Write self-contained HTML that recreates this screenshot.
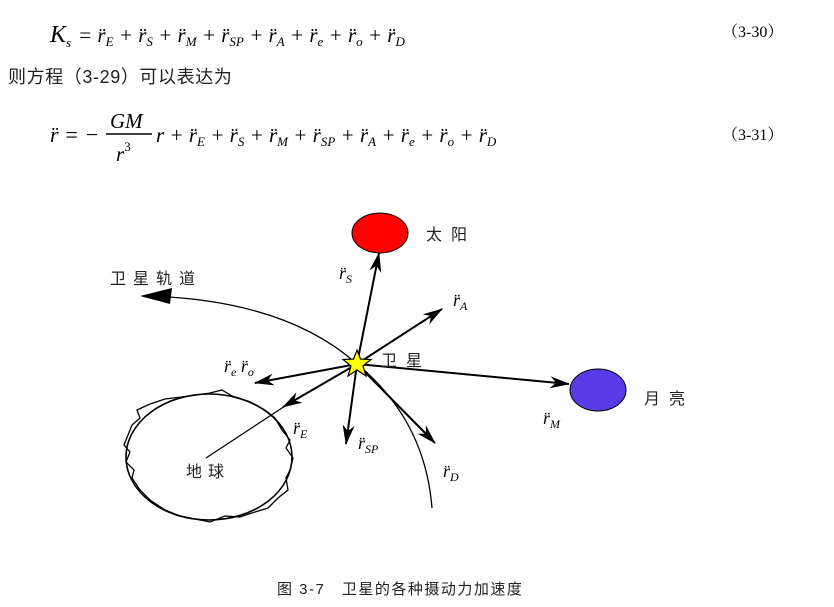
<!DOCTYPE html>
<html><head><meta charset="utf-8"><style>
html,body{margin:0;padding:0;background:#fff;width:834px;height:607px;overflow:hidden}
svg{display:block}
.m{font-family:"Liberation Serif",serif;font-style:italic}
.c{font-family:"Liberation Serif","Noto Serif CJK SC",serif}
.s{font-family:"Liberation Sans","Noto Sans CJK SC",sans-serif}
</style></head><body>
<svg width="834" height="607" viewBox="0 0 834 607" xmlns="http://www.w3.org/2000/svg">
<defs>
<marker id="ah" viewBox="0 0 20 12" refX="19" refY="6" markerWidth="20" markerHeight="12" markerUnits="userSpaceOnUse" orient="auto">
<path d="M0,0 L20,6 L0,12 L6,6 Z" fill="#000"/>
</marker>
</defs>
<text x="50" y="42" class="m" font-size="24">K<tspan font-size="13" dy="5">s</tspan></text>
<text x="78" y="42" class="m" font-size="21" word-spacing="0">= r̈<tspan font-size="13" dy="4">E</tspan><tspan dy="-4"> + r̈</tspan><tspan font-size="13" dy="4">S</tspan><tspan dy="-4"> + r̈</tspan><tspan font-size="13" dy="4">M</tspan><tspan dy="-4"> + r̈</tspan><tspan font-size="13" dy="4">SP</tspan><tspan dy="-4"> + r̈</tspan><tspan font-size="13" dy="4">A</tspan><tspan dy="-4"> + r̈</tspan><tspan font-size="13" dy="4">e</tspan><tspan dy="-4"> + r̈</tspan><tspan font-size="13" dy="4">o</tspan><tspan dy="-4"> + r̈</tspan><tspan font-size="13" dy="4">D</tspan></text>
<text x="722" y="37" class="c" font-size="16">（3-30）</text>
<text x="8" y="83" class="s" font-size="18" fill="#222" letter-spacing="0.6">则方程（3-29）可以表达为</text>
<text x="50" y="142" class="m" font-size="22">r̈ = −</text>
<text x="110" y="128" class="m" font-size="21">GM</text>
<line x1="106" y1="134" x2="152" y2="134" stroke="#000" stroke-width="1.5"/>
<text x="116" y="161" class="m" font-size="21">r<tspan font-size="13" dy="-10" font-style="normal">3</tspan></text>
<text x="156" y="142" class="m" font-size="21" word-spacing="0">r + r̈<tspan font-size="13" dy="4">E</tspan><tspan dy="-4"> + r̈</tspan><tspan font-size="13" dy="4">S</tspan><tspan dy="-4"> + r̈</tspan><tspan font-size="13" dy="4">M</tspan><tspan dy="-4"> + r̈</tspan><tspan font-size="13" dy="4">SP</tspan><tspan dy="-4"> + r̈</tspan><tspan font-size="13" dy="4">A</tspan><tspan dy="-4"> + r̈</tspan><tspan font-size="13" dy="4">e</tspan><tspan dy="-4"> + r̈</tspan><tspan font-size="13" dy="4">o</tspan><tspan dy="-4"> + r̈</tspan><tspan font-size="13" dy="4">D</tspan></text>
<text x="722" y="140" class="c" font-size="16">（3-31）</text>

<ellipse cx="380" cy="233" rx="28" ry="20" fill="#ff0000" stroke="#000" stroke-width="1"/>
<ellipse cx="598" cy="390" rx="28" ry="21" fill="#5a3be8" stroke="#000" stroke-width="1"/>
<ellipse cx="209" cy="457" rx="83" ry="63" fill="none" stroke="#000" stroke-width="1.6"/>
<path d="M126,440 L132,425 L140,418 L137,410 L150,404 L165,399 L190,396 L210,393 L222,390 L232,396 L250,402 L265,410 L275,418 L282,430 L290,440 L286,448 L293,458 L290,470 L286,478 L288,490 L278,498 L268,508 L255,512 L240,517 L225,516 L210,522 L195,519 L180,516 L165,510 L150,500 L140,490 L132,478 L134,470 L126,462 L130,452 L124,445 Z" fill="none" stroke="#000" stroke-width="1.3"/>
<line x1="285" y1="406" x2="206" y2="458" stroke="#000" stroke-width="1.2"/>

<path d="M148,296 Q285,300 357,364 Q425,420 432,508" fill="none" stroke="#000" stroke-width="1.3"/>
<path d="M140,296 L172,288 L170,304 Z" fill="#000"/>

<g stroke="#000" stroke-width="2" marker-end="url(#ah)">
<line x1="357" y1="364" x2="379" y2="253"/>
<line x1="357" y1="364" x2="442" y2="309"/>
<line x1="357" y1="364" x2="569" y2="384"/>
<line x1="357" y1="364" x2="255" y2="383"/>
<line x1="357" y1="364" x2="283" y2="407"/>
<line x1="357" y1="364" x2="346" y2="444"/>
<line x1="357" y1="364" x2="435" y2="443"/>
</g>
<polygon points="357,350 360.5,359 371,359.5 363,366 366,376 357,370 348,376 351,366 343,359.5 353.5,359" fill="#ffff00" stroke="#000" stroke-width="1.2"/>

<g class="s" font-size="16" fill="#222">
<text x="426" y="240" letter-spacing="9">太阳</text>
<text x="110" y="284" letter-spacing="7">卫星轨道</text>
<text x="381" y="366" letter-spacing="9">卫星</text>
<text x="644" y="404" letter-spacing="9">月亮</text>
<text x="186" y="477" letter-spacing="6">地球</text>
</g>
<g class="m" font-size="18">
<text x="339" y="279">r̈<tspan font-size="12" dy="4">S</tspan></text>
<text x="453" y="306">r̈<tspan font-size="12" dy="4">A</tspan></text>
<text x="224" y="372">r̈<tspan font-size="12" dy="4">e</tspan><tspan dy="-4"> r̈</tspan><tspan font-size="12" dy="4">o</tspan></text>
<text x="293" y="434">r̈<tspan font-size="12" dy="4">E</tspan></text>
<text x="358" y="449">r̈<tspan font-size="12" dy="4">SP</tspan></text>
<text x="443" y="477">r̈<tspan font-size="12" dy="4">D</tspan></text>
<text x="543" y="424">r̈<tspan font-size="12" dy="4">M</tspan></text>
</g>
<text x="277" y="594" class="s" font-size="15" fill="#222" letter-spacing="1.5">图 3-7　卫星的各种摄动力加速度</text>
</svg>
</body></html>
